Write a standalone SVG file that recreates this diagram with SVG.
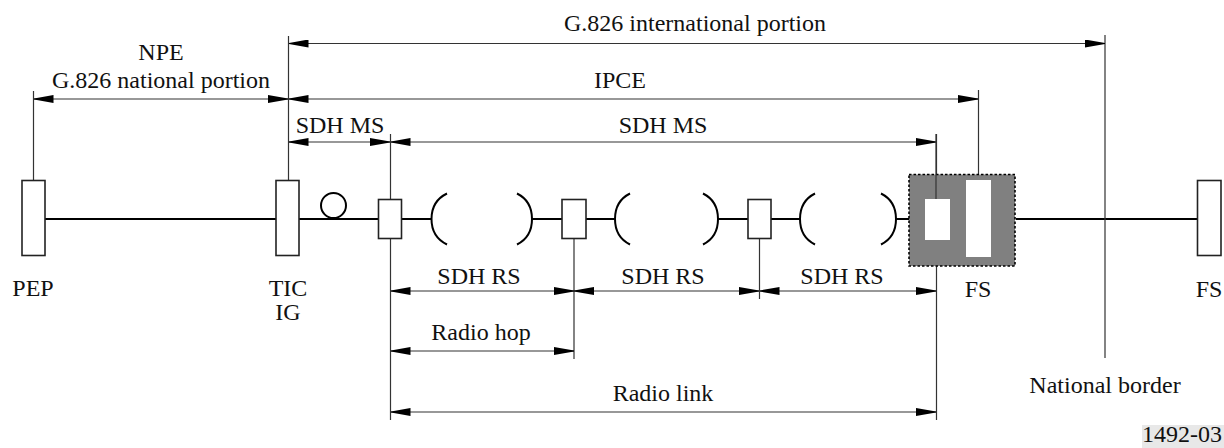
<svg xmlns="http://www.w3.org/2000/svg" width="1224" height="448" viewBox="0 0 1224 448">
<style>
text{font-family:"Liberation Serif","Times New Roman",serif;font-size:24px;fill:#111;text-anchor:middle}
.b{fill:#fff;stroke:#222;stroke-width:1.6}
.w{fill:#fff}
.t{fill:none;stroke:#333;stroke-width:1.2}
.d{fill:none;stroke:#333;stroke-width:1.2;marker-start:url(#s);marker-end:url(#e)}
.c{fill:none;stroke:#000;stroke-width:2}
</style>
<defs>
<marker id="e" markerUnits="userSpaceOnUse" markerWidth="20" markerHeight="8" refX="20" refY="4" orient="auto"><path d="M0 0L20 3.500V4.500L0 8Z" fill="#000"/></marker>
<marker id="s" markerUnits="userSpaceOnUse" markerWidth="20" markerHeight="8" refX="0" refY="4" orient="auto"><path d="M20 0L0 3.500V4.500L20 8Z" fill="#000"/></marker>
</defs>
<rect x="1142" y="425" width="82" height="23" fill="#e8e8e8"/>
<g id="connectors">
<path class="c" d="M45 219H276M299 219H378M401 219H431.500M532 219H562M586 219H615M718 219H748M771 219H800M896 219H909M1016 219H1197"/>
<path class="t" d="M33.500 91V180M288.500 36V180M390.500 134V199M390.500 239V420M574 239V359M759.500 239V299M936.500 134V199M936.500 266V420M978.500 90V174M1105 35V358"/>
<path class="d" d="M288.500 43.500H1105"/>
<path class="d" d="M33.500 99H288"/>
<path class="d" d="M288.500 99H978"/>
<path class="d" d="M288.500 142H390"/>
<path class="d" d="M390.500 142H936"/>
<path class="d" d="M390.500 291H574"/>
<path class="d" d="M574 291H759"/>
<path class="d" d="M759.500 291H936"/>
<path class="d" d="M390.500 351H574"/>
<path class="d" d="M390.500 412H936"/>
</g>
<g id="pep"><rect class="b" x="22" y="180.500" width="23" height="75"/><text x="33" y="296">PEP</text></g>
<g id="tic"><rect class="b" x="276" y="180.500" width="23" height="75"/><text x="288" y="296">TIC</text><text x="288" y="320">IG</text></g>
<g id="loop"><circle cx="333.500" cy="205.500" r="12.500" fill="none" stroke="#000" stroke-width="2"/></g>
<g id="r1"><rect class="b" x="378.500" y="199.500" width="23" height="39"/></g>
<g id="r2"><rect class="b" x="562" y="199.500" width="24" height="39"/></g>
<g id="r3"><rect class="b" x="748" y="199.500" width="23" height="39"/></g>
<g id="hop1"><path class="c" d="M447 193.500Q431.500 201 431.500 219T447 244.500M517 193.500Q532 201 532 219T517 244.500"/></g>
<g id="hop2"><path class="c" d="M630 193.500Q615 201 615 219T630 244.500M703 193.500Q718 201 718 219T703 244.500"/></g>
<g id="hop3"><path class="c" d="M815 193.500Q800 201 800 219T815 244.500M881 193.500Q896 201 896 219T881 244.500"/></g>
<g id="fs1"><rect x="909" y="174.500" width="106" height="91.500" fill="#808080" stroke="#000" stroke-width="1.600" stroke-dasharray="2.500 2"/><rect class="w" x="925" y="199" width="25" height="41"/><rect class="w" x="966" y="180" width="25" height="77"/><path d="M936 134V199" stroke="#333" stroke-width="1.200"/><text x="978" y="297">FS</text></g>
<g id="fs2"><rect class="b" x="1197.500" y="180.500" width="23.500" height="75"/><text x="1209" y="297">FS</text></g>
<g id="labels">
<text x="695" y="31">G.826 international portion</text>
<text x="161" y="60">NPE</text>
<text x="161" y="88">G.826 national portion</text>
<text x="620" y="88">IPCE</text>
<text x="340" y="133">SDH MS</text>
<text x="663" y="133">SDH MS</text>
<text x="479" y="284">SDH RS</text>
<text x="663" y="284">SDH RS</text>
<text x="842" y="284">SDH RS</text>
<text x="481" y="340">Radio hop</text>
<text x="663" y="401">Radio link</text>
<text x="1105" y="393">National border</text>
<text x="1182" y="442">1492-03</text>
</g>
</svg>
